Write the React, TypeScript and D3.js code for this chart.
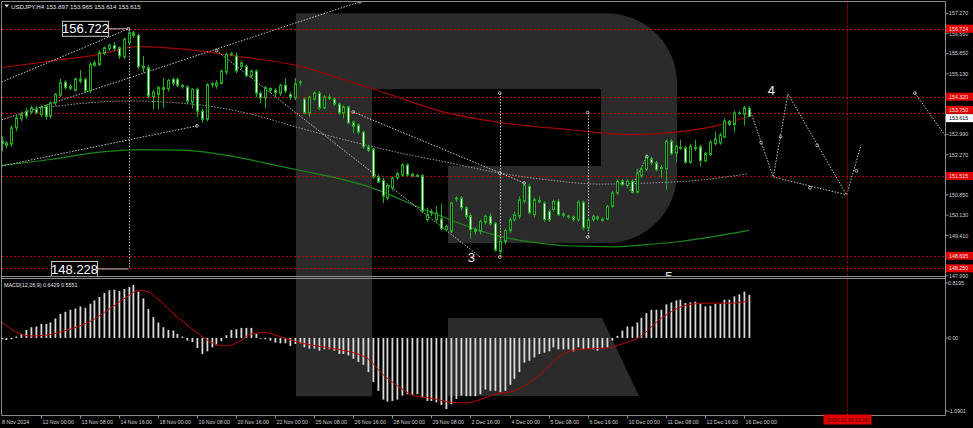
import React from "react";
import * as d3 from "d3";

const W = 973;
const H = 428;

// ---------- price data (USDJPY H4), bar index 0..153 ----------
const opens = [
  152.75, 152.6, 152.65, 153.22, 153.54, 153.81, 153.77, 153.89, 153.69, 153.99,
  153.63, 154.1, 154.37, 154.84, 154.69, 154.55, 154.95, 154.93, 154.52, 155.43,
  155.46, 155.85, 156.02, 156.14, 156.05, 155.74, 156.23, 156.58, 156.49, 155.35,
  155.35, 154.32, 154.4, 154.64, 154.6, 154.93, 154.93, 154.72, 154.67, 154.13,
  154.58, 153.81, 153.52, 154.75, 154.7, 154.79, 155.19, 155.8, 155.76, 155.4,
  155.4, 155.05, 155.23, 154.44, 154.28, 154.55, 154.55, 154.44, 154.72, 154.4,
  154.28, 154.84, 154.24, 153.74, 154.24, 154.45, 153.92, 154.31, 154.24, 154.06,
  153.74, 153.96, 153.42, 153.32, 153.07, 152.54, 152.47, 151.48, 151.36, 150.74,
  151.09, 151.45, 151.55, 151.91, 151.58, 151.54, 151.53, 149.97, 150.25, 149.97,
  150.0, 149.62, 149.56, 150.7, 150.74, 150.39, 150.11, 149.62, 149.56, 149.88,
  150.09, 149.85, 148.85, 149.2, 149.59, 149.97, 150.09, 150.62, 151.15, 150.15,
  150.65, 150.56, 150.27, 150.33, 150.62, 150.17, 150.1, 150.07, 149.97, 150.59,
  149.68, 149.97, 150.07, 149.99, 149.99, 150.44, 150.92, 151.34, 151.18, 151.33,
  150.94, 151.51, 151.74, 152.13, 151.98, 151.78, 151.77, 152.75, 152.33, 152.53,
  152.51, 152.0, 152.53, 152.55, 152.06, 152.28, 152.66, 152.69, 152.9, 153.44,
  153.34, 153.73, 153.7, 153.897,
];
const highs = [
  152.92, 152.75, 153.3, 153.7, 153.8, 153.92, 154.0, 153.98, 154.02, 154.05,
  154.15, 154.45, 154.96, 154.9, 154.75, 155.0, 155.26, 155.0, 155.55, 155.6,
  155.97, 156.1, 156.2, 156.25, 156.1, 156.4, 156.722, 156.65, 156.55, 155.76,
  155.45, 154.55, 154.7, 154.99, 154.95, 155.0, 155.0, 154.78, 154.72, 154.62,
  154.65, 153.9, 154.8, 154.85, 154.9, 155.28, 155.88, 155.9, 155.88, 155.58,
  155.45, 155.28, 155.28, 154.5, 154.7, 154.65, 154.62, 154.78, 154.98, 154.48,
  154.98, 154.9, 154.3, 154.35, 154.52, 154.52, 154.38, 154.4, 154.3, 154.12,
  154.02, 154.0, 153.48, 153.38, 153.12, 152.62, 152.52, 151.58, 151.45, 151.25,
  151.5, 151.66, 151.97, 151.96, 151.63, 151.58, 151.58, 150.4, 150.35, 150.45,
  150.54, 149.8, 150.62, 150.8, 150.8, 150.45, 150.2, 149.7, 149.98, 150.15,
  150.2, 149.9, 149.3, 149.65, 150.05, 150.25, 150.8, 151.25, 151.25, 150.75,
  150.8, 150.62, 150.35, 150.68, 150.7, 150.25, 150.15, 150.12, 150.65, 150.65,
  150.05, 150.15, 150.12, 150.05, 150.5, 150.98, 151.4, 151.4, 151.4, 151.4,
  151.78, 151.85, 152.3, 152.2, 152.05, 151.9, 152.8, 152.82, 152.62, 152.8,
  152.58, 152.65, 152.8, 152.62, 152.38, 152.78, 153.08, 153.05, 153.55, 153.5,
  153.82, 153.8, 154.0, 153.965,
];
const lows = [
  152.39, 152.5, 152.55, 153.1, 153.45, 153.55, 153.7, 153.7, 153.6, 153.5,
  153.55, 154.0, 154.3, 154.58, 154.55, 154.5, 154.8, 154.45, 154.45, 155.38,
  155.4, 155.8, 155.95, 155.95, 155.65, 155.65, 156.15, 156.4, 155.3, 155.17,
  154.25, 153.87, 153.87, 153.93, 154.5, 154.7, 154.65, 154.6, 154.05, 153.9,
  153.6, 153.4, 153.45, 154.65, 154.6, 154.75, 155.1, 155.75, 155.15, 155.3,
  155.0, 154.98, 154.3, 154.1, 153.92, 154.45, 154.3, 154.35, 154.45, 154.2,
  154.2, 154.7, 153.7, 153.6, 154.18, 153.85, 153.88, 154.2, 154.0, 153.68,
  153.55, 153.35, 153.04, 153.0, 152.48, 152.36, 151.42, 151.26, 150.56, 150.65,
  151.0, 151.38, 151.5, 151.5, 151.47, 151.47, 150.2, 149.9, 150.1, 149.85,
  149.6, 149.55, 149.5, 150.6, 150.3, 150.0, 149.3, 149.45, 149.45, 149.8,
  149.75, 148.85, 148.75, 149.1, 149.5, 149.9, 150.0, 150.55, 150.15, 150.05,
  150.55, 149.9, 149.9, 150.25, 150.1, 150.05, 150.0, 149.9, 149.9, 149.6,
  149.6, 149.9, 149.95, 149.9, 149.95, 150.4, 150.85, 151.15, 151.1, 150.9,
  150.9, 151.45, 151.7, 151.9, 151.68, 151.45, 151.03, 152.25, 152.0, 152.45,
  151.95, 151.95, 152.4, 151.85, 152.0, 152.22, 152.6, 152.62, 152.85, 153.28,
  153.05, 153.68, 153.3, 153.614,
];
const closes = [
  152.66, 152.68, 153.22, 153.57, 153.69, 153.63, 153.93, 153.75, 153.96, 153.63,
  154.1, 154.4, 154.81, 154.64, 154.62, 154.95, 154.87, 154.52, 155.46, 155.52,
  155.88, 156.05, 156.14, 156.02, 155.76, 156.35, 156.58, 156.49, 155.38, 155.4,
  154.34, 154.48, 154.64, 154.58, 154.9, 154.79, 154.72, 154.68, 154.16, 154.58,
  153.81, 153.52, 154.75, 154.78, 154.81, 155.23, 155.82, 155.84, 155.23, 155.52,
  155.07, 155.23, 154.44, 154.28, 154.64, 154.61, 154.46, 154.72, 154.52, 154.3,
  154.78, 154.81, 153.74, 154.31, 154.45, 153.92, 154.31, 154.26, 154.06, 153.74,
  153.96, 153.39, 153.28, 153.07, 152.54, 152.43, 151.48, 151.3, 150.8, 151.18,
  151.44, 151.6, 151.91, 151.55, 151.52, 151.51, 150.27, 150.15, 150.21, 150.21,
  149.65, 149.73, 150.56, 150.74, 150.39, 150.09, 149.62, 149.56, 149.91, 150.09,
  149.82, 148.89, 149.2, 149.59, 149.97, 150.15, 150.68, 151.18, 150.21, 150.68,
  150.6, 149.97, 149.97, 150.62, 150.15, 150.13, 150.07, 149.97, 150.59, 149.68,
  149.97, 150.09, 150.0, 149.95, 150.44, 150.92, 151.33, 151.21, 151.33, 150.94,
  151.63, 151.77, 152.19, 151.98, 151.74, 151.82, 152.75, 152.31, 152.57, 152.5,
  152.0, 152.57, 152.49, 152.06, 152.31, 152.71, 152.83, 152.95, 153.46, 153.34,
  153.75, 153.75, 153.93, 153.615,
];

// moving averages, sampled as [bar index, price]
const maRed: [number, number][] = [
  [0, 155.35], [10, 155.58], [20, 155.82], [28, 156.09], [41, 155.93], [47, 155.78],
  [61, 155.4], [70, 154.93], [80, 154.37], [90, 153.8], [102, 153.41], [116, 153.16],
  [129, 152.98], [137, 153.05], [146, 153.28], [153, 153.62],
];
const maGreen: [number, number][] = [
  [0, 151.89], [10, 152.1], [20, 152.36], [28, 152.45], [37, 152.43], [47, 152.22],
  [57, 151.86], [61, 151.72], [75, 151.15], [88, 150.23], [102, 149.38], [109, 149.17],
  [116, 149.05], [126, 149.01], [132, 149.09], [139, 149.2], [146, 149.38], [153, 149.59],
];
const maGray: [number, number][] = [
  [8, 153.92], [26, 154.17], [40.6, 154.03], [50.9, 153.71], [61.1, 153.21], [71.3, 152.75],
  [81.6, 152.33], [91.8, 151.98], [102, 151.62], [112.3, 151.37], [122.5, 151.23],
  [132.8, 151.27], [143, 151.37], [152.6, 151.59],
];

// analysis drawings as [bar index, price]
const trendLines: [number, number][][] = [
  [[0, 154.84], [26, 156.722]],
  [[0, 153.5], [73.4, 157.68]],
  [[0, 151.87], [40, 153.29]],
  [[44, 155.95], [98, 148.65]],
  [[72, 153.78], [107, 151.27]],
  [[128.6, 151.0], [132.1, 152.2]],
  [[153, 153.97], [158, 151.48], [161, 154.42], [173, 150.85], [176, 152.62]],
  [[158, 151.48], [173, 150.85]],
  [[187, 154.45], [194, 152.75]],
];
const verticals: [number, number, number][] = [
  [26, 156.722, 148.228],
  [102, 154.45, 148.65],
  [120, 153.76, 149.36],
];
const markers: [number, number][] = [
  [26, 156.722], [73.4, 157.68], [44, 155.95], [72, 153.78], [102, 151.62], [107, 151.27],
  [102, 154.45], [120, 153.76], [102, 148.65], [120, 149.36], [155.5, 152.7], [159.5, 152.9],
  [167, 152.6], [175, 151.7], [165.5, 151.1], [187, 154.45], [40, 153.29], [132.1, 152.2],
];
const waveLabels: [string, number, number][] = [
  ["3", 96.2, 148.64],
  ["4", 157.6, 154.55],
  ["5", 136.6, 147.962],
];
// [text, anchor bar, price, gap between box and anchor]
const priceBoxes: [string, number, number, number][] = [
  ["156.722", 26, 156.722, 20],
  ["148.228", 26, 148.228, 31],
];

// axes
const priceTicks = [157.27, 156.55, 155.85, 155.13, 152.99, 152.27, 150.85, 150.13, 149.41, 147.99];
const redLevels = [156.724, 154.32, 153.75, 151.515, 148.695, 148.25];
const redLabelShift = [0, 0, -3, 0, 0, 0];
const currentPrice = 153.615;
const timeLabels = [
  "8 Nov 2024", "12 Nov 00:00", "13 Nov 08:00", "14 Nov 16:00", "18 Nov 00:00", "19 Nov 08:00",
  "20 Nov 16:00", "22 Nov 00:00", "25 Nov 08:00", "26 Nov 16:00", "28 Nov 00:00", "29 Nov 08:00",
  "2 Dec 16:00", "4 Dec 00:00", "5 Dec 08:00", "6 Dec 16:00", "10 Dec 00:00", "11 Dec 08:00",
  "12 Dec 16:00", "16 Dec 00:00",
];
const timeLabelIdx = [0, 8, 16, 24, 32, 40, 48, 56, 64, 72, 80, 88, 96, 104, 112, 120, 128, 136, 144, 152];
const futureIdx = 173;
const futureLabel = "2024.12.19 12:00";

// MACD(12,26,9)
const macdHist = [
  -0.02, -0.03, -0.02, 0.02, 0.06, 0.12, 0.16, 0.17, 0.21, 0.21,
  0.23, 0.29, 0.36, 0.39, 0.42, 0.44, 0.47, 0.45, 0.51, 0.56,
  0.61, 0.67, 0.71, 0.72, 0.7, 0.73, 0.76, 0.79, 0.69, 0.59,
  0.43, 0.31, 0.23, 0.16, 0.12, 0.11, 0.06, 0.02, -0.04, -0.06,
  -0.15, -0.24, -0.2, -0.14, -0.11, -0.05, 0.04, 0.12, 0.13, 0.15,
  0.15, 0.15, 0.06, 0.0, -0.02, -0.04, -0.07, -0.08, -0.08, -0.12,
  -0.09, -0.08, -0.14, -0.16, -0.16, -0.19, -0.17, -0.17, -0.19, -0.24,
  -0.24, -0.26, -0.31, -0.36, -0.4, -0.51, -0.66, -0.79, -0.92, -0.95,
  -0.94, -0.92, -0.86, -0.84, -0.85, -0.84, -0.89, -0.94, -0.94, -0.96,
  -1.0, -1.06, -0.99, -0.91, -0.86, -0.87, -0.87, -0.87, -0.84, -0.77,
  -0.79, -0.79, -0.81, -0.79, -0.7, -0.61, -0.51, -0.37, -0.34, -0.29,
  -0.24, -0.22, -0.2, -0.14, -0.17, -0.17, -0.17, -0.2, -0.14, -0.17,
  -0.16, -0.17, -0.19, -0.15, -0.14, -0.04, 0.03, 0.11, 0.17, 0.17,
  0.23, 0.3, 0.37, 0.42, 0.42, 0.42, 0.5, 0.53, 0.56, 0.57,
  0.52, 0.53, 0.54, 0.51, 0.47, 0.48, 0.51, 0.51, 0.57, 0.57,
  0.62, 0.65, 0.69, 0.6429,
];
const macdSignal: [number, number][] = [
  [0, 0.24], [2, 0.13], [6, 0.03], [9, 0.04], [13, 0.11], [18, 0.24], [22, 0.43], [26, 0.63],
  [28, 0.71], [30, 0.69], [32, 0.58], [36, 0.31], [40, 0.08], [43, -0.07], [46, -0.12],
  [49, -0.04], [51, 0.06], [54, 0.08], [57, 0.02], [61, -0.07], [68, -0.16], [72, -0.22],
  [75, -0.31], [78, -0.54], [82, -0.76], [84, -0.85], [88, -0.9], [92, -0.96], [95, -0.97],
  [98, -0.92], [101, -0.84], [105, -0.79], [110, -0.56], [115, -0.24], [118, -0.17],
  [124, -0.15], [127, -0.09], [131, 0.03], [134, 0.23], [139, 0.46], [142, 0.51], [146, 0.52],
  [150, 0.52], [153, 0.5551],
];
const macdTicks = [0.8195, 0, -1.0901];

const FONT = "'Liberation Sans', Arial, sans-serif";
const AXIS_TXT = "#d2d2d2";
const GREEN = "#22b022";
const DOT = "#c4c4c4";
const RED_LINE = "#b80000";

export default function App() {
  const x = d3.scaleLinear().domain([0, 153]).range([1.6, 1.6 + 153 * 4.884]);
  const y = d3.scaleLinear().domain([147.99, 157.27]).range([275.7, 13.3]);
  const ym = d3.scaleLinear().domain([-1.0901, 0.8195]).range([411, 283]);

  const line = d3.line<[number, number]>().x((d) => x(d[0])).y((d) => y(d[1])).curve(d3.curveMonotoneX);
  const straight = d3.line<[number, number]>().x((d) => x(d[0])).y((d) => y(d[1]));
  const sigLine = d3.line<[number, number]>().x((d) => x(d[0])).y((d) => ym(d[1])).curve(d3.curveMonotoneX);

  const AX = 945.5;
  const cx = (i: number) => Math.round(x(i)) + 0.5;

  return (
    <svg width={W} height={H} style={{ display: "block", position: "absolute", left: 0, top: 0, background: "#000" }}
      fontFamily={FONT}>
      <defs>
        <clipPath id="mainClip"><rect x={2} y={1.5} width={943} height={275} /></clipPath>
        <clipPath id="macdClip"><rect x={2} y={278.5} width={943} height={137} /></clipPath>
        <clipPath id="allClip"><rect x={2} y={1.5} width={943} height={414} /></clipPath>
      </defs>
      <rect x={0} y={0} width={W} height={H} fill="#000" />

      {/* watermark logo */}
      <g fill="#2b2b2b" clipPath="url(#allClip)">
        <rect x={296} y={13.3} width={76} height={383} />
        <path d="M372,13.3 H607 A70,70 0 0 1 677,83.3 V173 A70,70 0 0 1 607,243 H448 V166 H601 V89 H372 Z" />
        <path d="M448,318 H602 L639,396 H448 Z" />
      </g>

      {/* main pane */}
      <g clipPath="url(#mainClip)">
        {redLevels.map((p) => (
          <line key={p} x1={2} x2={AX} y1={Math.round(y(p)) + 0.5} y2={Math.round(y(p)) + 0.5}
            stroke={RED_LINE} strokeDasharray="2,2" />
        ))}
        <path d={line(maGray) || ""} fill="none" stroke="#9a9a9a" strokeDasharray="1.5,1.5" />
        <path d={line(maRed) || ""} fill="none" stroke="#a30000" strokeWidth={1.2} />
        <path d={line(maGreen) || ""} fill="none" stroke="#1b8a1b" strokeWidth={1.2} />

        {trendLines.map((t, k) => (
          <path key={k} d={straight(t) || ""} fill="none" stroke={DOT} strokeDasharray="1.5,1.5" />
        ))}
        {verticals.map(([i, p1, p2], k) => (
          <line key={k} x1={cx(i)} x2={cx(i)} y1={y(p1)} y2={y(p2)} stroke={DOT} strokeDasharray="1.5,1.5" />
        ))}

        {opens.map((o, i) => {
          const c = closes[i];
          const bull = c >= o;
          const top = y(Math.max(o, c));
          const bot = y(Math.min(o, c));
          const xx = cx(i);
          return (
            <g key={i}>
              <line x1={xx} x2={xx} y1={y(highs[i])} y2={y(lows[i])} stroke={GREEN} />
              <rect x={xx - 1} y={top} width={2} height={Math.max(0.6, bot - top)}
                fill={bull ? "#000" : "#ffffff"} stroke={GREEN} strokeWidth={1} />
            </g>
          );
        })}

        {markers.map(([i, p], k) => (
          <circle key={k} cx={x(i)} cy={y(p)} r={1.4} fill="none" stroke="#cfcfcf" strokeWidth={0.8} />
        ))}

        {priceBoxes.map(([t, i, p, gap]) => {
          const yy = y(p);
          const w = 46;
          const x1 = x(i) - gap - w;
          return (
            <g key={t}>
              <line x1={x1 + w} x2={x(i)} y1={yy} y2={yy} stroke="#bdbdbd" />
              <rect x={x1} y={yy - 7.5} width={w} height={15} fill="#000" stroke="#c8c8c8" />
              <text x={x1 + w / 2} y={yy + 4.6} fill="#fff" fontSize={13} textAnchor="middle">{t}</text>
            </g>
          );
        })}

        {waveLabels.map(([t, i, p]) => (
          <text key={t} x={x(i)} y={y(p) + 5} fill="#f0f0f0" fontSize={13} textAnchor="middle">{t}</text>
        ))}
      </g>

      {/* future vertical marker */}
      <line x1={cx(futureIdx)} x2={cx(futureIdx)} y1={1.5} y2={415} stroke={RED_LINE} strokeDasharray="2,2" />

      {/* MACD pane */}
      <g clipPath="url(#macdClip)">
        {macdHist.map((v, i) => {
          const y0 = ym(0);
          const y1 = ym(v);
          return (
            <rect key={i} x={cx(i) - 1} y={Math.min(y0, y1)} width={1.8}
              height={Math.max(0.8, Math.abs(y1 - y0))} fill="#dadada" />
          );
        })}
        <path d={sigLine(macdSignal) || ""} fill="none" stroke="#c00000" strokeWidth={1} />
      </g>

      {/* frames */}
      <g stroke="#8c8c8c" strokeWidth={1} fill="none">
        <line x1={1.5} x2={AX} y1={1.5} y2={1.5} />
        <line x1={1.5} x2={1.5} y1={1.5} y2={415.5} />
        <line x1={AX} x2={AX} y1={1.5} y2={415.5} />
        <line x1={1.5} x2={AX} y1={276.5} y2={276.5} />
        <line x1={1.5} x2={AX} y1={278.5} y2={278.5} />
        <line x1={1.5} x2={AX} y1={415.5} y2={415.5} />
      </g>

      {/* header texts */}
      <path d="M4.5,4.5 L9,4.5 L6.75,7.5 Z" fill="#e0e0e0" />
      <text x={11} y={8.8} fill="#e6e6e6" fontSize={6.2}>
        USDJPY,H4  153.897 153.965 153.614 153.615
      </text>
      <text x={4} y={287} fill="#e6e6e6" fontSize={5.4}>MACD(12,26,9) 0.6429 0.5551</text>

      {/* price axis */}
      {priceTicks.map((p) => (
        <g key={p}>
          <line x1={AX} x2={AX + 3} y1={y(p)} y2={y(p)} stroke="#8c8c8c" />
          <text x={949} y={y(p) + 2} fill={AXIS_TXT} fontSize={5.3}>{p.toFixed(3)}</text>
        </g>
      ))}
      {redLevels.map((p, k) => {
        const yy = y(p) + redLabelShift[k];
        return (
          <g key={p}>
            <rect x={AX + 0.5} y={yy - 4} width={27} height={8} fill="#e00000" />
            <text x={949} y={yy + 2} fill="#ffe8e8" fontSize={5.3}>{p.toFixed(3)}</text>
          </g>
        );
      })}
      <rect x={AX + 0.5} y={y(currentPrice) + 1.5 - 4} width={27} height={8} fill="#ffffff" />
      <text x={949} y={y(currentPrice) + 1.5 + 2} fill="#000" fontSize={5.3}>{currentPrice.toFixed(3)}</text>

      {/* macd axis */}
      {macdTicks.map((v) => (
        <g key={v}>
          <line x1={AX} x2={AX + 3} y1={ym(v)} y2={ym(v)} stroke="#8c8c8c" />
          <text x={948} y={ym(v) + 2} fill={AXIS_TXT} fontSize={5.3}>
            {v === 0 ? "0.00" : v.toFixed(4)}
          </text>
        </g>
      ))}

      {/* time axis */}
      {timeLabels.map((t, k) => {
        const xx = cx(timeLabelIdx[k]);
        return (
          <g key={t}>
            {k > 0 && <line x1={xx} x2={xx} y1={415.5} y2={418.5} stroke="#8c8c8c" />}
            <text x={k === 0 ? 2 : xx + 1} y={423.5} fill={AXIS_TXT} fontSize={5.3}>{t}</text>
          </g>
        );
      })}
      <rect x={cx(futureIdx) - 24} y={414.5} width={48} height={10} fill="#e00000" />
      <text x={cx(futureIdx)} y={422} fill="#3a0000" fontSize={5.3} textAnchor="middle">{futureLabel}</text>
    </svg>
  );
}
